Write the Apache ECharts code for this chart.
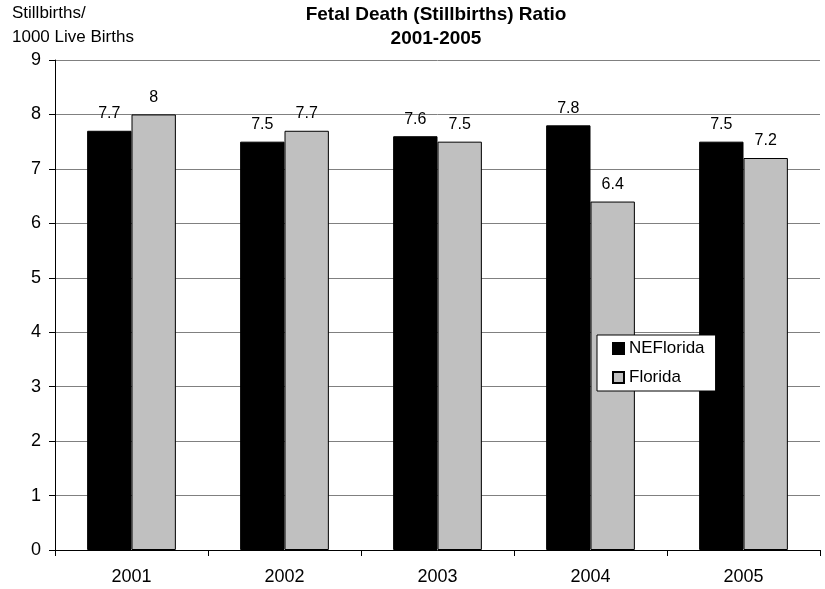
<!DOCTYPE html>
<html><head><meta charset="utf-8">
<script src="https://cdn.jsdelivr.net/npm/echarts@6/dist/echarts.min.js"></script>
<style>html,body{margin:0;padding:0;background:#fff}#c{width:825px;height:589px}</style>
</head><body><div id="c"></div>
<script>
const years = ['2001','2002','2003','2004','2005'];
const neFlorida = [7.7, 7.5, 7.6, 7.8, 7.5];
const florida = [8, 7.7, 7.5, 6.4, 7.2];

const chart = echarts.init(document.getElementById('c'));
const font = 'Liberation Sans, Arial, sans-serif';
const lbl = {show:true, position:'top', distance:9, color:'#000', fontSize:16, fontFamily:font};
chart.setOption({
  animation:false,
  textStyle:{fontFamily:font},
  title:[
    {text:'Fetal Death (Stillbirths) Ratio\n2001-2005', left:436, top:3, padding:0, textAlign:'center',
     textStyle:{fontSize:19, fontWeight:'bold', color:'#000', fontFamily:font, lineHeight:24}},
    {text:'Stillbirths/\n1000 Live Births', left:12, top:1, padding:0,
     textStyle:{fontSize:17, fontWeight:'normal', color:'#000', fontFamily:font, lineHeight:24}}
  ],
  legend:{orient:'vertical', left:597, top:335,
    data:['NEFlorida','Florida'], icon:'rect', itemWidth:11, itemHeight:11, itemGap:12,
    padding:[5,11,5,15], borderColor:'#000', borderWidth:1, backgroundColor:'#fff', borderRadius:0,
    textStyle:{fontSize:17, color:'#000', fontFamily:font}},
  grid:{left:55, right:5, top:60, bottom:39},
  xAxis:{type:'category', data:years,
    axisLine:{lineStyle:{color:'#000'}},
    axisTick:{show:true, length:6, lineStyle:{color:'#000'}},
    axisLabel:{color:'#000', fontSize:18, fontFamily:font, margin:18}},
  yAxis:{type:'value', min:0, max:9, interval:1,
    axisLine:{show:true, lineStyle:{color:'#000'}},
    axisTick:{show:true, length:6, lineStyle:{color:'#000'}},
    axisLabel:{color:'#000', fontSize:18, fontFamily:font, margin:14},
    splitLine:{show:true, lineStyle:{color:'#808080', width:1}}},
  series:[
    {name:'NEFlorida', type:'bar', data:neFlorida, barWidth:'29%', barGap:'0%',
     itemStyle:{color:'#000', borderColor:'#000', borderWidth:1}, label:lbl},
    {name:'Florida', type:'bar', data:florida, barWidth:'29%',
     itemStyle:{color:'#c0c0c0', borderColor:'#000', borderWidth:1}, label:lbl}
  ]
});
</script></body></html>
